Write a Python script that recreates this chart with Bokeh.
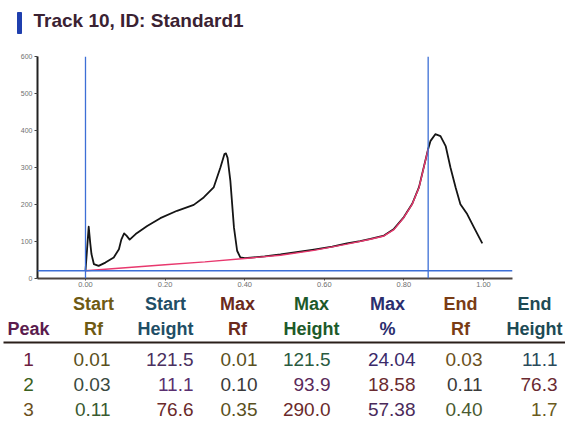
from bokeh.plotting import figure
from bokeh.models import Range1d, Span, FixedTicker, NumeralTickFormatter, ColumnDataSource
from bokeh.core.properties import value
from bokeh.embed import file_html
from bokeh.resources import INLINE

# ---- densitometer trace (Rf vs. height) ----
trace_rf = [0.000, 0.004, 0.008, 0.012, 0.015, 0.021, 0.033, 0.050, 0.071, 0.084,
            0.090, 0.097, 0.103, 0.111, 0.126, 0.155, 0.188, 0.230, 0.272, 0.297,
            0.322, 0.339, 0.349, 0.353, 0.357, 0.364, 0.373, 0.381, 0.389, 0.400,
            0.450, 0.490, 0.530, 0.574, 0.620, 0.657, 0.690, 0.716, 0.750, 0.775,
            0.800, 0.821, 0.838, 0.850, 0.861, 0.867, 0.879, 0.892, 0.905, 0.917,
            0.930, 0.942, 0.959, 0.976, 0.997]
trace_height = [21, 80, 140, 95, 66, 39, 34, 43, 57, 79,
                105, 122, 116, 105, 120, 142, 163, 183, 199, 219,
                246, 300, 336, 338, 326, 264, 138, 75, 57, 55,
                60, 65, 71, 78, 86, 95, 101, 107, 116, 134,
                166, 202, 247, 301, 350, 372, 390, 385, 358, 300,
                246, 201, 174, 138, 95]

# ---- integration baseline ----
base_rf = [0.000, 0.100, 0.200, 0.300, 0.400, 0.490, 0.574, 0.657, 0.716, 0.750,
           0.775, 0.800, 0.821, 0.838, 0.850, 0.861]
base_height = [21, 29, 37, 45, 54, 63, 76, 93, 106, 115,
               132, 165, 201, 246, 300, 350]

# ---- markers ----
marker_rf = [0.0, 0.861]
threshold = 21

x_ticks = [0.0, 0.2, 0.4, 0.6, 0.8, 1.0]
y_ticks = [0, 100, 200, 300, 400, 500, 600]

# ---- peak table ----
header_top = ["", "Start", "Start", "Max", "Max", "Max", "End", "End"]
header_bottom = ["Peak", "Rf", "Height", "Rf", "Height", "%", "Rf", "Height"]
peak_ids = ["1", "2", "3"]
start_rf = [0.01, 0.03, 0.11]
start_height = [121.5, 11.1, 76.6]
max_rf = [0.01, 0.10, 0.35]
max_height = [121.5, 93.9, 290.0]
max_pct = [24.04, 18.58, 57.38]
end_rf = [0.03, 0.11, 0.40]
end_height = [11.1, 76.3, 1.7]

W = 565
FONT = value("Liberation Sans")


def bare(fig):
    fig.grid.visible = False
    fig.outline_line_color = None
    fig.background_fill_color = "white"
    fig.border_fill_color = "white"


# ---- heading ----
head = figure(width=W, height=42, x_range=Range1d(0, W), y_range=Range1d(42, 0),
              output_backend="svg", toolbar_location=None, min_border=0,
              x_axis_location=None, y_axis_location=None)
bare(head)
head.quad(left=17, right=21, top=12, bottom=33, color="#1f3fae")
head.text(x=[33], y=[20], text=["Track 10, ID: Standard1"], text_font=FONT,
          text_font_style="bold", text_font_size="19px", text_baseline="alphabetic",
          text_color="#3a2232")

# ---- chart ----
chart = figure(width=W, height=250, x_range=Range1d(-0.1206, 1.0729), y_range=Range1d(0, 600),
               output_backend="svg", toolbar_location=None,
               min_border_left=37, min_border_right=53, min_border_top=14, min_border_bottom=14)
bare(chart)

yax = chart.yaxis[0]
yax.ticker = FixedTicker(ticks=y_ticks)
yax.axis_line_color = "#222222"
yax.axis_line_width = 2
yax.major_tick_out = 3
yax.major_tick_in = 0
yax.major_tick_line_color = "#444444"
yax.minor_tick_line_color = None
yax.major_label_text_font = "Liberation Sans"
yax.major_label_text_font_size = "7px"
yax.major_label_text_color = "#707070"
yax.major_label_standoff = 2

xax = chart.xaxis[0]
xax.ticker = FixedTicker(ticks=x_ticks)
xax.formatter = NumeralTickFormatter(format="0.00")
xax.axis_line_color = "#4d4540"
xax.axis_line_width = 2
xax.major_tick_out = 2
xax.major_tick_in = 0
xax.major_tick_line_color = "#4d4540"
xax.minor_tick_line_color = None
xax.major_label_text_font = "Liberation Sans"
xax.major_label_text_font_size = "7.5px"
xax.major_label_text_color = "#707070"
xax.major_label_standoff = 1

chart.line(trace_rf, trace_height, line_color="#151515", line_width=1.8, line_join="round")
chart.line(base_rf, base_height, line_color="#e8386e", line_width=1.4)

for rf in marker_rf:
    chart.add_layout(Span(location=rf, dimension="height", line_color="#3d6fd6", line_width=1.3))
chart.add_layout(Span(location=threshold, dimension="width", line_color="#3d6fd6", line_width=1.3))

# ---- table ----
table = figure(width=W, height=142, x_range=Range1d(0, W), y_range=Range1d(142, 0),
               output_backend="svg", toolbar_location=None, min_border=0,
               x_axis_location=None, y_axis_location=None)
bare(table)

col_center = [28, 93, 165, 237, 311, 387, 460, 534]
col_right = [37, 110, 193, 257, 330, 415, 482, 557]
head_colors = ["#5b1c4e", "#6e5a14", "#1f4e66", "#6b2a1c", "#1d5a2a", "#2b2e6e", "#7a3c14", "#1d4a55"]
cell_colors = [
    ["#6a2040", "#5a5020", "#4a3060", "#5a5020", "#2a5a40", "#3a2a6a", "#6a5020", "#2a4a5a"],
    ["#3a6020", "#3a4a40", "#5a3070", "#3a3a3a", "#5a2a5a", "#6a2a30", "#3a3a3a", "#6a2a30"],
    ["#6a5020", "#3a5a30", "#6a2a2a", "#5a5020", "#6a2a2a", "#4a2a5a", "#4a5a30", "#6a5a20"],
]

table.text(x=col_center, y=[11] * 8, text=header_top, text_font=FONT, text_font_style="bold",
           text_font_size="18px", text_align="center", text_baseline="alphabetic",
           text_color=head_colors)
table.text(x=col_center, y=[36] * 8, text=header_bottom, text_font=FONT, text_font_style="bold",
           text_font_size="18px", text_align="center", text_baseline="alphabetic",
           text_color=head_colors)
table.line([3, W], [50, 50], line_color="#2a1f1a", line_width=2)

row_y = [67, 92, 117]
for i in range(len(peak_ids)):
    cells = [peak_ids[i], f"{start_rf[i]:.2f}", f"{start_height[i]:.1f}", f"{max_rf[i]:.2f}",
             f"{max_height[i]:.1f}", f"{max_pct[i]:.2f}", f"{end_rf[i]:.2f}", f"{end_height[i]:.1f}"]
    src = ColumnDataSource(dict(x=[col_center[0]], y=[row_y[i]], t=[cells[0]], c=[cell_colors[i][0]]))
    table.text(x="x", y="y", text="t", text_color="c", source=src, text_font=FONT,
               text_font_size="19px", text_align="center", text_baseline="alphabetic")
    src2 = ColumnDataSource(dict(x=col_right[1:], y=[row_y[i]] * 7, t=cells[1:], c=cell_colors[i][1:]))
    table.text(x="x", y="y", text="t", text_color="c", source=src2, text_font=FONT,
               text_font_size="19px", text_align="right", text_baseline="alphabetic")

# three independent roots, stacked top to bottom
open("out.html", "w").write(file_html([head, chart, table], INLINE))
